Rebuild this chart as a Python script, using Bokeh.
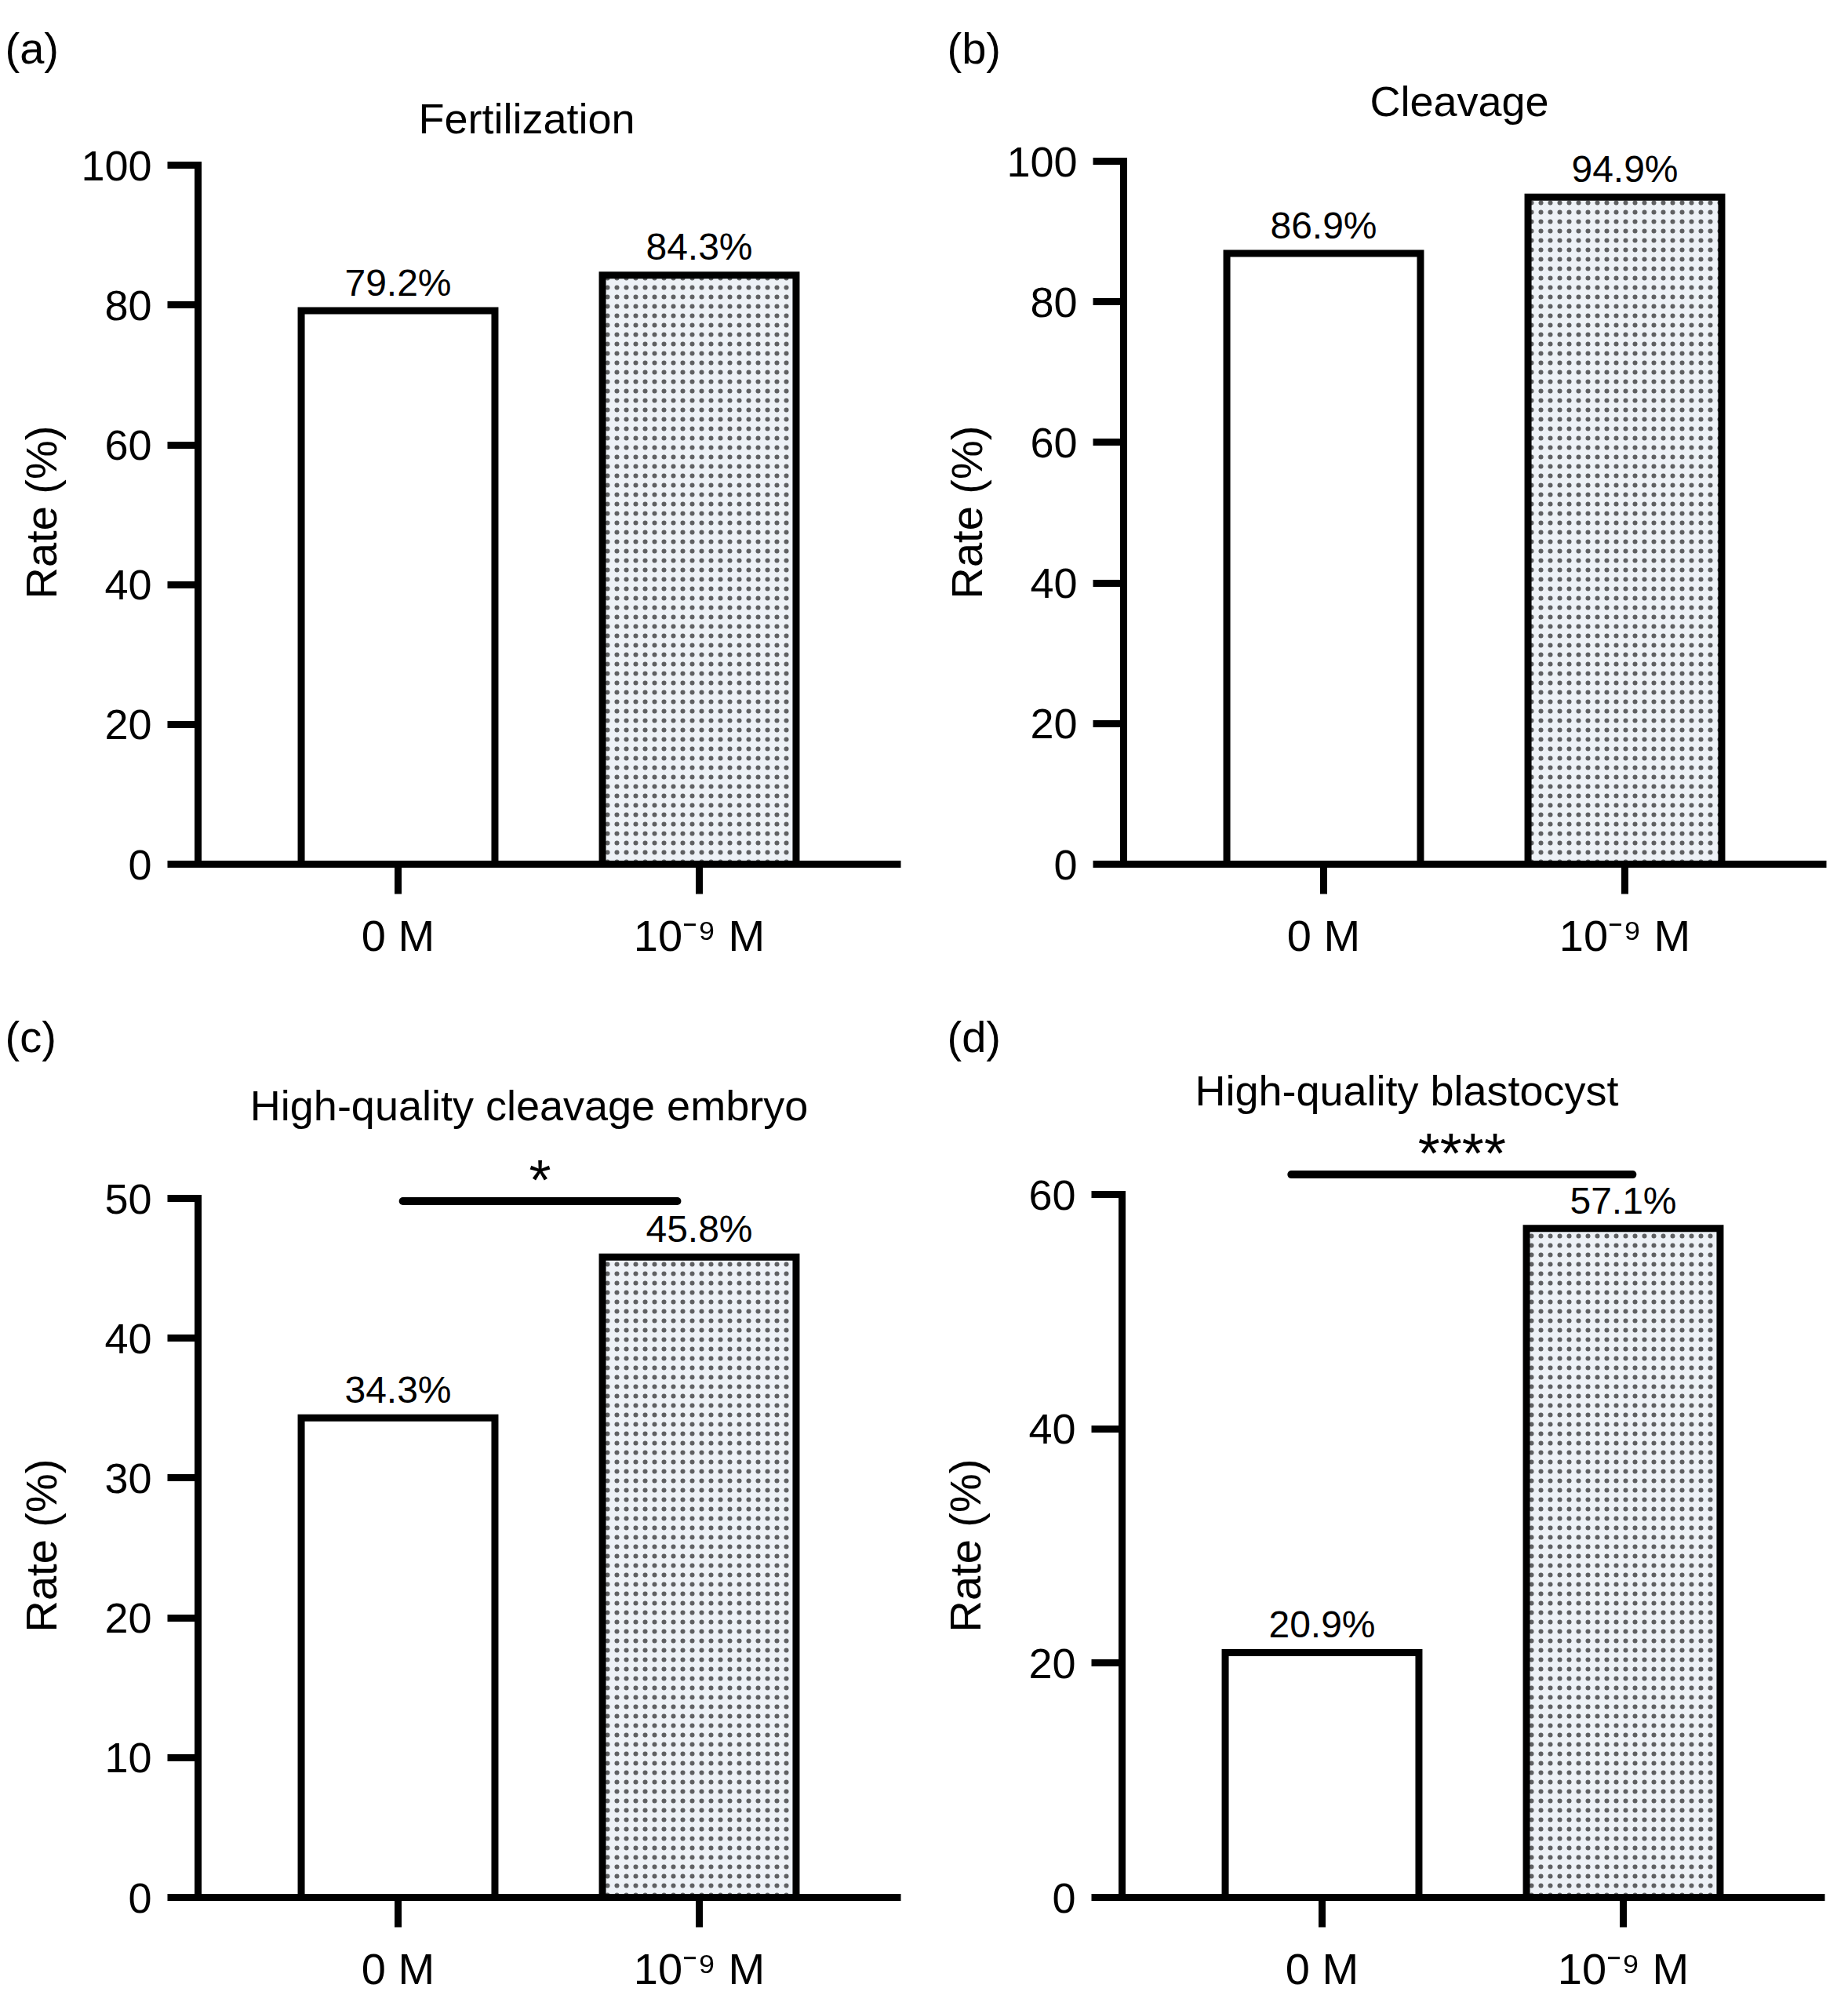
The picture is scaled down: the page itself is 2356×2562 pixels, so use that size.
from bokeh.plotting import figure
from bokeh.models import Range1d, FixedTicker, ColumnDataSource, Title
from bokeh.layouts import column, row
from bokeh.embed import file_html
from bokeh.resources import INLINE
from bokeh.core.properties import value

# ---------------- data ----------------
groups = ["0 M", "10\u207b\u2079 M"]
panel_letters = ["(a)", "(b)", "(c)", "(d)"]
titles = ["Fertilization", "Cleavage", "High-quality cleavage embryo", "High-quality blastocyst"]
fertilization = [79.2, 84.3]
cleavage = [86.9, 94.9]
hq_cleavage_embryo = [34.3, 45.8]
hq_blastocyst = [20.9, 57.1]
series = [fertilization, cleavage, hq_cleavage_embryo, hq_blastocyst]
y_max = [100, 100, 50, 60]
y_step = [20, 20, 10, 20]
y_label = "Rate (%)"
sig_marks = [None, None, "*", "****"]

# ---------------- layout / style ----------------
FONT = "Liberation Sans"
W = 1178
FRAME_W = 896
AXIS_H = 896
PX_PER_GROUP = 384
XR0 = 1 - 255 / PX_PER_GROUP
XR1 = XR0 + FRAME_W / PX_PER_GROUP
BAR_W = 0.643
LW = 9
MID = 0.347  # em offset between alphabetic baseline and rendered anchor
FIGSP = "\u2007"

# per panel pixel layout (figure-local, y measured from top)
lay = [
    dict(H=1281, left=252, bottom=1107, top=92, title_x=671, title_base=170, letter_x=6),
    dict(H=1281, left=254, bottom=1101, top=92, title_x=682, title_base=147, letter_x=29),
    dict(H=1279, left=252, bottom=1143, top=71, title_x=674, title_base=147, letter_x=6),
    dict(H=1279, left=252, bottom=1137, top=71, title_x=615, title_base=127, letter_x=29),
]
# significance bars: (x start, x end, height) in data units
sig_geom = [None, None, (1.016, 1.927, 49.8), (0.898, 2.031, 61.7)]


def make_panel(i):
    L = lay[i]
    H = L["H"]
    ppu = AXIS_H / y_max[i]
    fb = L["bottom"]
    ft = L["top"]

    def px_x(lx):
        return XR0 + (lx - L["left"]) / PX_PER_GROUP

    def px_y(ly):
        return (fb - ly) / ppu

    p = figure(width=W, height=H, title=None, toolbar_location=None,
               output_backend="svg",
               x_range=Range1d(XR0, XR1), y_range=Range1d(0, (fb - ft) / ppu),
               min_border_left=L["left"], min_border_right=W - L["left"] - FRAME_W,
               min_border_top=ft, min_border_bottom=H - fb)
    p.outline_line_color = None
    p.grid.visible = False
    p.background_fill_color = "white"
    p.border_fill_color = "white"

    vals = series[i]
    xs = [k + 1 for k in range(len(groups))]
    src = ColumnDataSource(dict(x=xs, top=vals, label=[f"{v}%" for v in vals]))
    src_ctrl = ColumnDataSource(dict(x=xs[:1], top=vals[:1]))
    src_trt = ColumnDataSource(dict(x=xs[1:], top=vals[1:]))

    p.vbar(x="x", top="top", bottom=0, width=BAR_W, source=src_ctrl,
           fill_color="white", line_color="black", line_width=LW, line_join="miter")
    p.vbar(x="x", top="top", bottom=0, width=BAR_W, source=src_trt,
           fill_color="#edf1f6", line_color="black", line_width=LW, line_join="miter",
           hatch_pattern="dot", hatch_color="black", hatch_alpha=0.6,
           hatch_scale=12, hatch_weight=1)

    p.text(x="x", y="top", text="label", source=src,
           text_align="center", text_baseline="alphabetic", y_offset=-19 - MID * 48,
           text_font=value(FONT), text_font_size="48px", text_color="black")

    # chart title
    p.text(x=[px_x(L["title_x"])], y=[px_y(L["title_base"])], text=[titles[i]],
           text_align="center", text_baseline="alphabetic", y_offset=-MID * 54,
           text_font=value(FONT), text_font_size="54px", text_color="black")

    # significance
    if sig_geom[i] is not None:
        x0, x1, hy = sig_geom[i]
        p.segment(x0=[x0], y0=[hy], x1=[x1], y1=[hy], line_color="black",
                  line_width=10, line_cap="round")
        p.text(x=[(x0 + x1) / 2], y=[hy], text=[sig_marks[i]],
               text_align="center", text_baseline="alphabetic", y_offset=-2 - MID * 72,
               text_font=value(FONT), text_font_size="72px", text_color="black")

    # axes
    xa = p.xaxis[0]
    xa.ticker = FixedTicker(ticks=xs)
    xa.major_label_overrides = {x: g for x, g in zip(xs, groups)}
    xa.axis_line_width = LW
    xa.axis_line_color = "black"
    xa.major_tick_out = 38
    xa.major_tick_in = 0
    xa.major_tick_line_width = LW
    xa.major_tick_line_color = "black"
    xa.minor_tick_out = 0
    xa.minor_tick_in = 0
    xa.major_label_text_font = FONT
    xa.major_label_text_font_size = "56px"
    xa.major_label_text_color = "black"
    xa.major_label_standoff = 21

    yticks = list(range(0, y_max[i] + 1, y_step[i]))
    ya = p.yaxis[0]
    ya.ticker = FixedTicker(ticks=yticks)
    ya.major_label_overrides = {t: str(t).rjust(3, FIGSP) for t in yticks}
    ya.bounds = (0, y_max[i])
    ya.axis_line_width = LW
    ya.axis_line_color = "black"
    ya.axis_line_cap = "square"
    ya.major_tick_out = 39
    ya.major_tick_in = 0
    ya.major_tick_line_width = LW
    ya.major_tick_line_color = "black"
    ya.minor_tick_out = 0
    ya.minor_tick_in = 0
    ya.major_label_text_font = FONT
    ya.major_label_text_font_size = "54px"
    ya.major_label_text_color = "black"
    ya.major_label_standoff = 20

    # y axis label as a side title, centred on the axis span
    p.add_layout(Title(text=y_label, align="left", offset=AXIS_H / 2 - 110,
                       vertical_align="top", standoff=30,
                       text_font=FONT, text_font_size="56px", text_font_style="normal",
                       text_color="black"), "left")
    # panel letter
    p.add_layout(Title(text=panel_letters[i], align="left", offset=L["letter_x"] - L["left"],
                       vertical_align="bottom", standoff=0,
                       text_font=FONT, text_font_size="56px", text_font_style="normal",
                       text_color="black"), "above")
    return p


panels = [make_panel(i) for i in range(4)]
layout = column(row(panels[0], panels[1]), row(panels[2], panels[3]))

open("out.html", "w").write(file_html(layout, INLINE))
